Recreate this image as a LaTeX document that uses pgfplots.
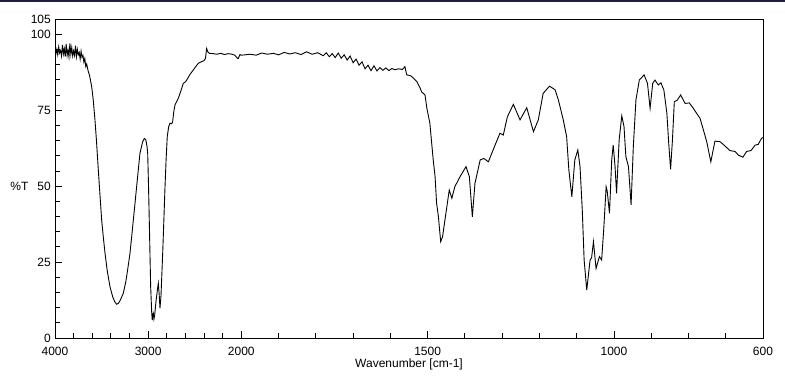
\documentclass[border=0pt]{standalone}
\usepackage{pgfplots}
\pgfplotsset{compat=1.18}
\usepackage{fontspec}
\setmainfont{Liberation Sans}
\definecolor{topnavy}{RGB}{30,30,70}
\begin{document}
\fontsize{12}{14}\selectfont
\begin{tikzpicture}
\begin{axis}[
  at={(0,0)}, anchor=south west,
  scale only axis, width=708pt, height=319pt,
  xmin=0, xmax=1900, ymin=0, ymax=105,
  x filter/.expression={x>=2000 ? (4000-x)/4 : 2500-x},
  xtick={0,250,500,1000,1500,1900},
  xticklabels={4000,3000,2000,1500,1000,600},
  minor xtick={50,100,150,200,300,350,400,450,600,700,800,900,1100,1200,1300,1400,1600,1700,1800},
  ytick={0,25,50,75,100,105},
  minor ytick={5,10,15,20,30,35,40,45,55,60,65,70,80,85,90,95},
  xtick pos=bottom, ytick pos=left,
  major tick length=7pt, minor tick length=5pt,
  tick style={black, line width=0.8pt},
  axis line style={line width=0.9pt},
  /pgf/number format/assume math mode=true,
  xticklabel style={yshift=-5pt},
  xlabel={Wavenumber [cm-1]},
  ylabel={\%T},
  every axis x label/.style={at={(axis description cs:0.5,0)}, anchor=base, yshift=-30pt},
  every axis y label/.style={at={(axis description cs:0,0.476)}, anchor=center, xshift=-35.5pt},
  clip=true,
]
\addplot[black, line width=0.9pt] coordinates {
(4000,94.2)(3990,93.5)(3980,95.0)(3970,93.2)(3960,95.8)(3950,93.8)(3940,94.6)(3930,92.8)
(3920,96.5)(3910,93.5)(3900,95.2)(3890,92.6)(3880,96.8)(3870,93.0)(3860,94.8)(3850,92.5)
(3840,97.0)(3830,93.4)(3820,95.6)(3810,92.8)(3800,94.5)(3790,93.0)(3780,96.2)(3770,92.6)
(3760,95.0)(3750,93.2)(3740,94.0)(3730,91.8)(3720,94.4)(3710,92.4)(3700,93.0)(3690,90.8)
(3680,92.0)(3670,89.4)(3660,90.2)(3645,88.0)(3630,86.5)(3620,85.0)(3606,82.7)(3590,78.5)
(3571,71.8)(3555,65)(3535,55.3)(3517,47)(3499,38.8)(3480,32.8)(3463,27.9)(3440,22.3)
(3410,16.9)(3380,13.5)(3360,12.0)(3338,11.1)(3320,11.4)(3300,12.4)(3267,14.7)(3240,18.5)
(3220,22.5)(3195,27.9)(3170,35.5)(3141,44.4)(3115,52.5)(3088,60.8)(3060,64.5)(3040,65.7)
(3025,65.2)(3012,63.0)(3005,60.8)(2996,50)(2988,38.8)(2980,27)(2973,16.9)(2962,8.5)
(2956,5.9)(2950,7.8)(2945,8.2)(2938,6.2)(2930,7.5)(2916,12)(2900,16)(2891,18.0)
(2882,14.5)(2873,9.8)(2862,14)(2844,27.9)(2830,40)(2819,49.8)(2807,59)(2795,66.3)
(2780,69.5)(2766,70.7)(2748,70.5)(2737,71.2)(2725,74.5)(2712,76.7)(2695,77.8)(2677,78.9)
(2650,81.2)(2623,83.8)(2600,84.3)(2586,84.9)(2550,86.8)(2516,88.2)(2490,89.3)(2462,90.4)
(2430,90.9)(2401,91.3)(2385,92.0)(2372,95.3)(2360,94.2)(2344,93.7)(2300,93.6)(2264,93.4)
(2220,93.7)(2180,93.3)(2140,93.6)(2100,93.4)(2070,93.1)(2040,92.0)(2032,92.0)(2015,93.3)
(2000,93.1)
(1990,93.2)(1977,93.4)(1960,93.1)(1945,93.8)(1930,93.4)(1914,93.7)(1900,93.2)(1885,94.0)
(1870,93.5)(1855,93.9)(1840,93.3)(1825,94.2)(1810,93.4)(1795,93.9)(1780,92.9)(1772,93.9)
(1764,92.6)(1756,93.6)(1748,92.3)(1740,93.8)(1732,92.1)(1724,93.2)(1716,91.5)(1708,92.8)
(1700,90.6)(1692,91.8)(1684,89.8)(1676,90.9)(1668,88.6)(1660,89.8)(1652,88.0)(1644,89.6)
(1636,87.9)(1628,89.0)(1620,88.1)(1612,88.9)(1604,88.0)(1596,88.7)(1588,88.3)(1578,88.6)
(1568,88.4)(1561,89.3)(1556,86.6)(1545,86.3)(1538,85.5)(1529,84.4)(1520,82.2)(1516,81.0)
(1507,80.0)(1502,75.6)(1494,70.7)(1485,58.6)(1480,53.1)(1476,44.4)(1471,39.9)(1465,31.7)
(1460,33.3)(1451,41.0)(1442,48.7)(1435,46.0)(1427,49.8)(1413,53.1)(1397,56.4)(1388,53.1)
(1380,39.9)(1373,50.9)(1359,58.6)(1349,59.1)(1337,58.0)(1319,63.5)(1306,67.4)(1297,66.8)
(1286,72.8)(1270,76.9)(1252,71.8)(1234,75.8)(1216,67.9)(1203,71.8)(1190,80.5)(1173,82.9)
(1158,81.7)(1149,78.3)(1136,71.8)(1127,66.3)(1121,55.3)(1113,46.5)(1105,58.6)(1097,61.9)
(1091,56.4)(1085,42.1)(1080,25.7)(1073,15.8)(1064,25.7)(1060,26.4)(1055,31.7)(1048,22.9)
(1039,26.8)(1033,25.7)(1027,36.6)(1021,49.8)(1018,48.3)(1012,41.0)(1006,58.6)(1002,63.5)
(997,56.4)(993,47.6)(986,65.2)(979,73.1)(973,69.6)(968,59.7)(961,56.4)(954,43.8)
(948,63.0)(941,78.3)(932,84.9)(919,86.6)(910,83.8)(903,75.6)(896,83.8)(890,84.9)
(881,83.3)(874,84.0)(866,81.6)(858,74.0)(853,64.1)(848,55.5)(843,65.2)(838,77.8)
(830,78.3)(821,80.0)(809,77.2)(798,77.4)(787,75.6)(769,72.3)(760,68.5)(751,64.6)
(740,58.0)(729,64.8)(715,64.6)(702,63.2)(689,61.7)(675,61.4)(666,60.2)(654,59.5)
(644,61.4)(632,61.7)(621,63.5)(613,63.7)(604,65.7)(600,66)
};
\end{axis}
\fill[topnavy] (-55pt,335.5pt) rectangle (730pt,338pt);
\pgfresetboundingbox
\path[use as bounding box] (-55pt,-42pt) rectangle (730pt,338pt);
\end{tikzpicture}
\end{document}
